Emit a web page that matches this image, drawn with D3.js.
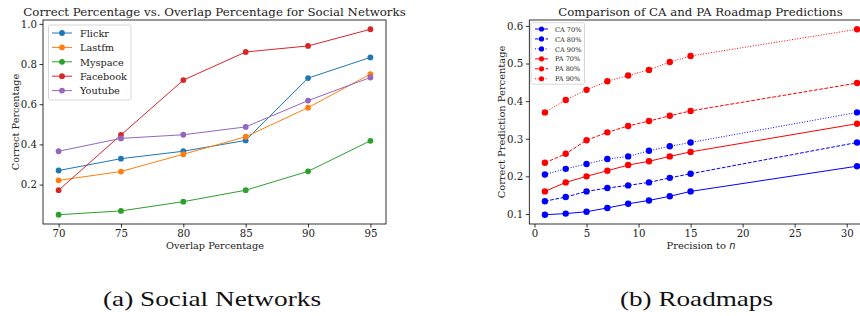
<!DOCTYPE html>
<html>
<head>
<meta charset="utf-8">
<script src="https://cdn.jsdelivr.net/npm/d3@7"></script>
<style>
  body { margin: 0; background: #fff; }
  svg { display: block; font-family: "DejaVu Serif", serif; }
</style>
</head>
<body>
<div id="chart"></div>
<script>
// ---- data: social networks ----
const overlap = [70, 75, 80, 85, 90, 95]
const networks = ['Flickr', 'Lastfm', 'Myspace', 'Facebook', 'Youtube']
const flickr   = [0.27, 0.329, 0.366, 0.42, 0.73, 0.833]
const lastfm   = [0.221, 0.265, 0.351, 0.438, 0.583, 0.75]
const myspace  = [0.05, 0.069, 0.115, 0.172, 0.266, 0.418]
const facebook = [0.172, 0.447, 0.72, 0.86, 0.89, 0.973]
const youtube  = [0.366, 0.43, 0.448, 0.487, 0.618, 0.733]
const overlapTicks = [70, 75, 80, 85, 90, 95]
const correctTicks = [0.2, 0.4, 0.6, 0.8, 1.0]

// ---- data: roadmaps ----
const precisionN = [1, 3, 5, 7, 9, 11, 13, 15, 31]
const roadSeries = ['CA 70%', 'CA 80%', 'CA 90%', 'PA 70%', 'PA 80%', 'PA 90%']
const ca70 = [0.098, 0.101, 0.106, 0.116, 0.127, 0.136, 0.147, 0.16, 0.227]
const ca80 = [0.134, 0.145, 0.16, 0.169, 0.176, 0.184, 0.196, 0.207, 0.29]
const ca90 = [0.205, 0.22, 0.233, 0.246, 0.253, 0.268, 0.28, 0.29, 0.37]
const pa70 = [0.16, 0.184, 0.2, 0.215, 0.23, 0.24, 0.253, 0.265, 0.34]
const pa80 = [0.236, 0.26, 0.296, 0.317, 0.334, 0.347, 0.361, 0.374, 0.448]
const pa90 = [0.37, 0.403, 0.43, 0.453, 0.468, 0.483, 0.504, 0.52, 0.591]
const precisionTicks = [0, 5, 10, 15, 20, 25, 30]
const predictionTicks = [0.1, 0.2, 0.3, 0.4, 0.5, 0.6]

const tab10 = ['#1f77b4', '#ff7f0e', '#2ca02c', '#d62728', '#9467bd']

const W = 860, H = 316
const svg = d3.select('#chart').append('svg')
    .attr('width', W)
    .attr('height', H)

svg.append('rect').attr('width', W).attr('height', H).attr('fill', '#fff')

// matplotlib style 5% margin
function padded(vals) {
    const [lo, hi] = d3.extent(vals)
    const m = (hi - lo) * 0.05
    return [lo - m, hi + m]
}

// scale the font so the text is about `width` px wide
function fit(sel, width) {
    const fs = +sel.attr('font-size')
    const len = sel.node().getComputedTextLength()
    if (len > 0) sel.attr('font-size', fs * width / len)
    return sel
}

function drawAxes(g, x, y, xTicks, yTicks, xFmt, yFmt) {
    const [x0, x1] = x.range()
    const [y1, y0] = y.range()
    const xa = g.append('g').attr('transform', `translate(0,${y1})`)
        .call(d3.axisBottom(x).tickValues(xTicks).tickFormat(xFmt).tickSize(3.5).tickPadding(2))
    const ya = g.append('g').attr('transform', `translate(${x0},0)`)
        .call(d3.axisLeft(y).tickValues(yTicks).tickFormat(yFmt).tickSize(3.5).tickPadding(2.5))
    for (const a of [xa, ya]) {
        a.select('.domain').remove()
        a.selectAll('line').attr('stroke', '#000').attr('stroke-width', 0.8)
        a.selectAll('text').attr('fill', '#222').attr('font-size', 10.2)
            .attr('font-family', '"DejaVu Serif", serif')
    }
    // spines
    g.append('rect')
        .attr('x', x0).attr('y', y0)
        .attr('width', x1 - x0).attr('height', y1 - y0)
        .attr('fill', 'none').attr('stroke', '#000').attr('stroke-width', 0.8)
}

// ================= (a) social networks =================
{
    const g = svg.append('g')
    const allVals = [].concat(flickr, lastfm, myspace, facebook, youtube)
    const x = d3.scaleLinear().domain(padded(overlap)).range([43, 386])
    const y = d3.scaleLinear().domain(padded(allVals)).range([224, 20])
    drawAxes(g, x, y, overlapTicks, correctTicks, d3.format('d'), d3.format('.1f'))

    const series = [flickr, lastfm, myspace, facebook, youtube]
    const line = d3.line().x((d, i) => x(overlap[i])).y(d => y(d))
    series.forEach((vals, k) => {
        g.append('path').datum(vals)
            .attr('d', line)
            .attr('fill', 'none')
            .attr('stroke', tab10[k])
            .attr('stroke-width', 1)
        g.selectAll(null).data(vals).enter().append('circle')
            .attr('cx', (d, i) => x(overlap[i]))
            .attr('cy', d => y(d))
            .attr('r', 2.9)
            .attr('fill', tab10[k])
    })

    fit(g.append('text').attr('x', 214.5).attr('y', 16)
        .attr('text-anchor', 'middle').attr('font-size', 11.5).attr('fill', '#222')
        .text('Correct Percentage vs. Overlap Percentage for Social Networks'), 383)
    const xl = fit(g.append('text').attr('x', 215).attr('y', 248.5)
        .attr('text-anchor', 'middle').attr('font-size', 10).attr('fill', '#222')
        .text('Overlap Percentage'), 98)
    g.append('text').attr('transform', 'translate(18.5,122) rotate(-90)')
        .attr('text-anchor', 'middle').attr('font-size', xl.attr('font-size')).attr('fill', '#222')
        .text('Correct Percentage')

    // legend
    const lg = g.append('g')
    lg.append('rect').attr('x', 48.5).attr('y', 25).attr('width', 82.5).attr('height', 75)
        .attr('rx', 2).attr('fill', '#fff').attr('fill-opacity', 0.8)
        .attr('stroke', '#ccc').attr('stroke-width', 0.8)
    const legFs = fit(lg.append('text').attr('font-size', 10.5).attr('opacity', 0).text('Facebook'), 47).attr('font-size')
    networks.forEach((name, k) => {
        const ly = 33 + k * 14.4
        lg.append('line').attr('x1', 52).attr('x2', 72).attr('y1', ly).attr('y2', ly)
            .attr('stroke', tab10[k]).attr('stroke-width', 1)
        lg.append('circle').attr('cx', 62).attr('cy', ly).attr('r', 2.9).attr('fill', tab10[k])
        lg.append('text').attr('x', 80).attr('y', ly + 3.8)
            .attr('font-size', legFs).attr('fill', '#222').text(name)
    })
}

// ================= (b) roadmaps =================
{
    const g = svg.append('g')
    const series = [ca70, ca80, ca90, pa70, pa80, pa90]
    const colors = ['#0000ff', '#0000ff', '#0000ff', '#ff0000', '#ff0000', '#ff0000']
    const dashes = [null, '3.7,1.6', '1,1.65', null, '3.7,1.6', '1,1.65']
    const allVals = [].concat(...series)
    const x = d3.scaleLinear().domain([-0.5, 32.5]).range([529.3, 872.7])
    const y = d3.scaleLinear().domain(padded(allVals)).range([224, 20])
    drawAxes(g, x, y, precisionTicks, predictionTicks, d3.format('d'), d3.format('.1f'))

    const line = d3.line().x((d, i) => x(precisionN[i])).y(d => y(d))
    series.forEach((vals, k) => {
        g.append('path').datum(vals)
            .attr('d', line)
            .attr('fill', 'none')
            .attr('stroke', colors[k])
            .attr('stroke-width', 1)
            .attr('stroke-dasharray', dashes[k])
        g.selectAll(null).data(vals).enter().append('circle')
            .attr('cx', (d, i) => x(precisionN[i]))
            .attr('cy', d => y(d))
            .attr('r', 3.2)
            .attr('fill', colors[k])
    })

    fit(g.append('text').attr('x', 700.5).attr('y', 16)
        .attr('text-anchor', 'middle').attr('font-size', 11.5).attr('fill', '#222')
        .text('Comparison of CA and PA Roadmap Predictions'), 285)
    const xl = g.append('text').attr('x', 701).attr('y', 248.5)
        .attr('text-anchor', 'middle').attr('font-size', 10).attr('fill', '#222')
    xl.append('tspan').text('Precision to ')
    xl.append('tspan').attr('font-family', '"DejaVu Sans", sans-serif')
        .attr('font-style', 'italic').text('n')
    fit(xl, 69)
    g.append('text').attr('transform', 'translate(505,122) rotate(-90)')
        .attr('text-anchor', 'middle').attr('font-size', xl.attr('font-size')).attr('fill', '#222')
        .text('Correct Prediction Percentage')

    const lg = g.append('g')
    lg.append('rect').attr('x', 531).attr('y', 22.7).attr('width', 53.5).attr('height', 61.5)
        .attr('rx', 1.5).attr('fill', '#fff').attr('fill-opacity', 0.8)
        .attr('stroke', '#ccc').attr('stroke-width', 0.8)
    const legFs = fit(lg.append('text').attr('font-size', 7.2).attr('opacity', 0).text('CA 70%'), 26.5).attr('font-size')
    roadSeries.forEach((name, k) => {
        const ly = 29 + k * 9.95
        lg.append('line').attr('x1', 535).attr('x2', 548).attr('y1', ly).attr('y2', ly)
            .attr('stroke', colors[k]).attr('stroke-width', 1)
            .attr('stroke-dasharray', dashes[k])
        lg.append('circle').attr('cx', 541.5).attr('cy', ly).attr('r', 2.6).attr('fill', colors[k])
        lg.append('text').attr('x', 555).attr('y', ly + 2.6)
            .attr('font-size', legFs).attr('fill', '#222').text(name)
    })
}

// ---- sub captions ----
const capFont = '"Liberation Serif", "Times New Roman", "DejaVu Serif", serif'
svg.append('text').attr('x', 103).attr('y', 306)
    .attr('font-family', capFont).attr('font-size', 21)
    .attr('textLength', 218).attr('lengthAdjust', 'spacingAndGlyphs')
    .attr('fill', '#111').text('(a) Social Networks')
svg.append('text').attr('x', 620).attr('y', 306)
    .attr('font-family', capFont).attr('font-size', 21)
    .attr('textLength', 153).attr('lengthAdjust', 'spacingAndGlyphs')
    .attr('fill', '#111').text('(b) Roadmaps')
</script>
</body>
</html>
